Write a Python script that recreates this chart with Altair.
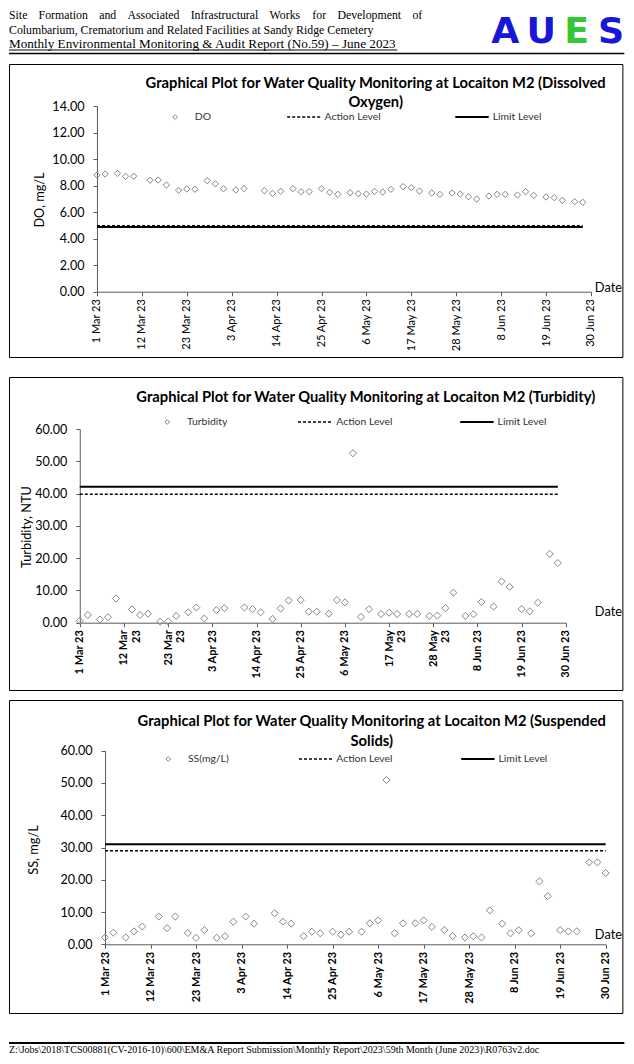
import altair as alt
import pandas as pd

# ---------------- data ----------------
sample_dates = [
    "2023-03-01", "2023-03-03", "2023-03-06", "2023-03-08", "2023-03-10", "2023-03-14",
    "2023-03-16", "2023-03-18", "2023-03-21", "2023-03-23", "2023-03-25", "2023-03-28",
    "2023-03-30", "2023-04-01", "2023-04-04", "2023-04-06", "2023-04-11", "2023-04-13",
    "2023-04-15", "2023-04-18", "2023-04-20", "2023-04-22", "2023-04-25", "2023-04-27",
    "2023-04-29", "2023-05-02", "2023-05-04", "2023-05-06", "2023-05-08", "2023-05-10",
    "2023-05-12", "2023-05-15", "2023-05-17", "2023-05-19", "2023-05-22", "2023-05-24",
    "2023-05-27", "2023-05-29", "2023-05-31", "2023-06-02", "2023-06-05", "2023-06-07",
    "2023-06-09", "2023-06-12", "2023-06-14", "2023-06-16", "2023-06-19", "2023-06-21",
    "2023-06-23", "2023-06-26", "2023-06-28",
]
ss_dates = sample_dates + ["2023-06-30"]

do_values = [
    8.80, 8.87, 8.92, 8.70, 8.71, 8.40, 8.42, 8.04, 7.65, 7.74,
    7.72, 8.37, 8.13, 7.76, 7.67, 7.77, 7.62, 7.41, 7.57, 7.77,
    7.54, 7.54, 7.77, 7.49, 7.34, 7.46, 7.39, 7.36, 7.56, 7.51,
    7.72, 7.92, 7.84, 7.59, 7.44, 7.34, 7.44, 7.36, 7.16, 6.99,
    7.21, 7.34, 7.34, 7.29, 7.54, 7.26, 7.14, 7.09, 6.89, 6.79, 6.74,
]
turbidity_values = [
    0.6, 2.4, 1.0, 1.7, 7.5, 4.1, 2.4, 2.8, 0.3, 0.4,
    2.1, 3.2, 4.7, 1.3, 3.9, 4.5, 4.7, 4.2, 3.2, 1.2,
    4.4, 6.9, 7.0, 3.4, 3.4, 2.8, 7.0, 6.3, 52.5, 1.8,
    4.2, 2.7, 3.1, 2.7, 2.7, 2.7, 2.1, 2.2, 4.5, 9.3,
    2.1, 2.6, 6.4, 5.0, 12.8, 11.1, 4.2, 3.5, 6.2, 21.3, 18.5,
]
ss_values = [
    2.1, 3.6, 2.1, 4.0, 5.5, 8.6, 5.0, 8.6, 3.5, 2.0,
    4.4, 2.0, 2.5, 7.0, 8.6, 6.4, 9.6, 7.0, 6.4, 2.5,
    3.9, 3.4, 3.9, 3.0, 3.9, 3.9, 6.5, 7.4, 50.9, 3.4,
    6.5, 6.5, 7.4, 5.4, 4.4, 2.5, 2.1, 2.5, 2.1, 10.5,
    6.4, 3.4, 4.4, 3.4, 19.5, 14.9, 4.4, 4.0, 4.0, 25.4, 25.4, 22.1,
]

do_action, do_limit = 4.97, 4.87
turb_action, turb_limit = 39.8, 42.1
ss_action, ss_limit = 29.0, 31.0
level_start = "2023-03-01"
do_level_end = "2023-06-28"
turb_level_end = "2023-06-28"
ss_level_end = "2023-06-30"

axis_start, axis_end = "2023-03-01", "2023-06-30"
tick_dates = ["2023-03-01", "2023-03-12", "2023-03-23", "2023-04-03", "2023-04-14", "2023-04-25",
              "2023-05-06", "2023-05-17", "2023-05-28", "2023-06-08", "2023-06-19", "2023-06-30"]
tick_format = "%-d %b %y"
turbidity_wrapped_labels = ["12 Mar 23", "23 Mar 23", "17 May 23", "28 May 23"]
do_ticks = [0, 2, 4, 6, 8, 10, 12, 14]
wq_ticks = [0, 10, 20, 30, 40, 50, 60]

header_line1_words = ["Site", "Formation", "and", "Associated", "Infrastructural", "Works", "for",
                      "Development", "of"]
header_line2 = "Columbarium, Crematorium and Related Facilities at Sandy Ridge Cemetery"
header_line3 = "Monthly Environmental Monitoring & Audit Report (No.59) \u2013 June 2023"
logo_letters = ["A", "U", "E", "S"]
footer_text = ("Z:\\Jobs\\2018\\TCS00881(CV-2016-10)\\600\\EM&A Report Submission\\Monthly Report"
               "\\2023\\59th Month (June 2023)\\R0763v2.doc")

# ---------------- layout helpers (design px -> page px) ----------------
SX = 0.983


def X(v):
    return round(v * SX, 2)


def F(v):
    return round(v * SX, 2)


SANS = "Lato"
SERIF = "Liberation Serif"
AX = "#5a5a5a"
PT = "#858585"
W = X(624)
one = pd.DataFrame({"k": [0]})


def dt(s):
    t = pd.Timestamp(s)
    return alt.DateTime(year=t.year, month=t.month, date=t.day, utc=True)


def txt(text, x, y, size, font=SANS, weight="normal", align="left", baseline="middle",
        color="black", angle=0):
    kw = dict(font=font, fontSize=F(size), fontWeight=weight, align=align, baseline=baseline,
              color=color)
    if angle:
        kw["angle"] = angle
    return alt.Chart(one).mark_text(**kw).encode(x=alt.value(X(x)), y=alt.value(y),
                                                 text=alt.value(text))


def hline(x1, x2, y, width, dash=None, color="black"):
    kw = dict(color=color, strokeWidth=width)
    if dash:
        kw["strokeDash"] = dash
    return alt.Chart(one).mark_rule(**kw).encode(x=alt.value(X(x1)), x2=alt.value(X(x2)),
                                                 y=alt.value(y))


def panel(dates, values, level_end, action, limit, x_range, y_range, y_ticks, frame_h,
          title_lines, title_x, title_ys, legend_label, legend_y, legend_x, ytitle, ytitle_pos,
          date_pos, point_size, xlabel_weight, wrapped=None):
    xr = [X(v) for v in x_range]
    yr = list(y_range)
    xs = alt.Scale(type="utc", domain=[dt(axis_start), dt(axis_end)], range=xr)
    ys = alt.Scale(domain=[y_ticks[0], y_ticks[-1]], range=yr, nice=False)
    lab = "utcFormat(datum.value, '" + tick_format + "')"
    if wrapped:
        wl = "[" + ",".join("'" + s + "'" for s in wrapped) + "]"
        expr = ("indexof(" + wl + ", " + lab + ") >= 0 ? [slice(" + lab + ", 0, -3), slice("
                + lab + ", -2)] : " + lab)
    else:
        expr = lab
    xaxis = alt.Axis(values=[dt(d) for d in tick_dates], labelExpr=expr,
                     labelAngle=-90, offset=yr[0] - frame_h, title=None, grid=False,
                     labelFont=SANS, labelFontSize=F(11.2), labelFontWeight=xlabel_weight,
                     labelColor="black", labelPadding=3, tickSize=4, domainColor=AX, tickColor=AX,
                     labelOverlap=False, labelFlush=False, labelLineHeight=F(12.5))
    yaxis = alt.Axis(values=y_ticks, format=".2f", offset=-xr[0], title=None, grid=False,
                     labelFont=SANS, labelFontSize=F(12.8), labelColor="black", tickSize=4,
                     labelPadding=9, domainColor=AX, tickColor=AX, labelOverlap=False,
                     labelFlush=False)
    pts = pd.DataFrame({"date": dates, "value": values})
    lv = pd.DataFrame({"start": [level_start], "end": [level_end], "action": [action],
                       "limit": [limit]})

    layers = [
        alt.Chart(lv).mark_rule(color="black", strokeWidth=1.5, strokeDash=[3, 2]).encode(
            x=alt.X("start:T", scale=xs, axis=xaxis), x2="end:T",
            y=alt.Y("action:Q", scale=ys, axis=yaxis)),
        alt.Chart(lv).mark_rule(color="black", strokeWidth=2).encode(
            x=alt.X("start:T", scale=xs, axis=xaxis), x2="end:T",
            y=alt.Y("limit:Q", scale=ys, axis=yaxis)),
        alt.Chart(pts).mark_point(shape="diamond", filled=False, stroke=PT, strokeWidth=1,
                                  size=point_size, opacity=1).encode(
            x=alt.X("date:T", scale=xs, axis=xaxis),
            y=alt.Y("value:Q", scale=ys, axis=yaxis)),
    ]
    for line, ty in zip(title_lines, title_ys):
        layers.append(txt(line, title_x, ty, 15, weight="bold", align="center"))
    lx = legend_x
    layers += [
        alt.Chart(one).mark_point(shape="diamond", filled=False, stroke=PT, strokeWidth=1,
                                  size=22, opacity=1).encode(x=alt.value(X(lx[0])),
                                                             y=alt.value(legend_y)),
        txt(legend_label, lx[1], legend_y, 10.6, color="#333333"),
        hline(lx[2], lx[3], legend_y, 1.5, dash=[3, 2]),
        txt("Action Level", lx[4], legend_y, 10.6, color="#333333"),
        hline(lx[5], lx[6], legend_y, 2),
        txt("Limit Level", lx[7], legend_y, 10.6, color="#333333"),
        txt(ytitle, ytitle_pos[0], ytitle_pos[1], 13, align="center", angle=270),
        txt("Date", date_pos[0], date_pos[1], 13),
    ]
    return alt.layer(*layers).properties(
        width=W, height=frame_h, view=alt.ViewBackground(stroke="black", strokeWidth=1))


# ---------------- header ----------------
word_x = [0, 30.1, 91.7, 120.5, 184.8, 265.1, 308.6, 334.1, 420.4]
header_layers = []
for i, (w, x) in enumerate(zip(header_line1_words, word_x)):
    header_layers.append(txt(w, x, 11, 12.05, font=SERIF, baseline="alphabetic",
                             align="right" if i == len(word_x) - 1 else "left"))
header_layers += [
    txt(header_line2, 0, 25.5, 12.05, font=SERIF, baseline="alphabetic"),
    txt(header_line3, 0, 40, 13.4, font=SERIF, baseline="alphabetic"),
    hline(0, 395, 42, 1),
    hline(0, 626, 45.5, 1.5),
]
logo_x = [505, 541.5, 577.5, 612.5]
logo_col = ["#1717d9", "#1717d9", "#35c835", "#1717d9"]
for ch, x, c in zip(logo_letters, logo_x, logo_col):
    header_layers.append(txt(ch, x, 34.5, 37, font="DejaVu Sans", weight="bold", align="center",
                             baseline="alphabetic", color=c))
header = alt.layer(*header_layers).properties(width=W, height=56)

# ---------------- panels ----------------
c1 = panel(sample_dates, do_values, do_level_end, do_action, do_limit,
           [89.5, 592], [227.7, 42], do_ticks, 293,
           ["Graphical Plot for Water Quality Monitoring at Locaiton M2  (Dissolved", "Oxygen)"],
           373, [20, 39], "DO", 53, [169, 189, 283, 318, 321, 454, 488, 492],
           "DO, mg/L", (32, 136), (596, 224), 40, "normal")

c2 = panel(sample_dates, turbidity_values, turb_level_end, turb_action, turb_limit,
           [72, 566.5], [245.7, 52], wq_ticks, 313,
           ["Graphical Plot for Water Quality Monitoring at Locaiton M2 (Turbidity)"],
           363, [21], "Turbidity", 45, [161, 181, 294, 329, 333, 459, 493, 497],
           "Turbidity, NTU", (18, 150), (596, 235), 50, "bold",
           wrapped=turbidity_wrapped_labels)

c3 = panel(ss_dates, ss_values, ss_level_end, ss_action, ss_limit,
           [97.7, 607], [244.3, 50.7], wq_ticks, 313,
           ["Graphical Plot for Water Quality Monitoring at Locaiton M2  (Suspended", "Solids)"],
           369, [22, 42], "SS(mg/L)", 59, [162, 182, 295, 330, 333, 460, 494, 498],
           "SS, mg/L", (25, 150), (596, 235), 50, "bold")


def spacer(h):
    return alt.Chart(one).mark_text(text="").encode(x=alt.value(0), y=alt.value(0)).properties(
        width=W, height=h)


footer = alt.layer(
    hline(0, 626, 30, 2),
    txt(footer_text, 0, 40.5, 10.2, font=SERIF, baseline="alphabetic"),
).properties(width=W, height=43)

chart = alt.vconcat(header, c1, spacer(20), c2, spacer(10), c3, footer,
                    spacing=0, bounds="flush").properties(padding=0).configure_view(strokeWidth=0)

chart.save("out.html", embed_options={"renderer": "svg", "actions": False})
